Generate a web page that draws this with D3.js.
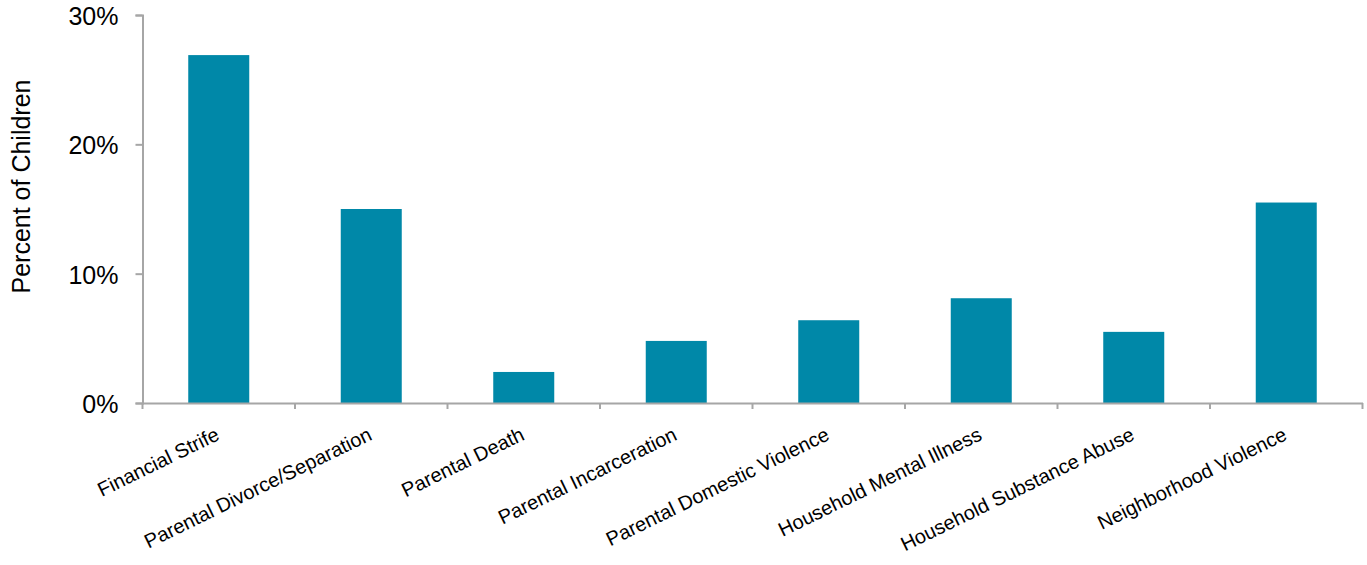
<!DOCTYPE html>
<html>
<head>
<meta charset="utf-8">
<script src="https://cdn.jsdelivr.net/npm/d3@7"></script>
<style>
  html, body { margin: 0; padding: 0; background: #fff; }
  svg { display: block; }
  text { font-family: "Liberation Sans", Arial, sans-serif; fill: #000; }
</style>
</head>
<body>
<svg id="chart" width="1367" height="565"></svg>
<script>
const categories = [
  "Financial Strife",
  "Parental Divorce/Separation",
  "Parental Death",
  "Parental Incarceration",
  "Parental Domestic Violence",
  "Household Mental Illness",
  "Household Substance Abuse",
  "Neighborhood Violence"
];
const values = [26.9, 15.0, 2.4, 4.8, 6.4, 8.1, 5.5, 15.5];
const yTicks = [0, 10, 20, 30];
const yTitle = "Percent of Children";

(function () {
const svg = d3.select("#chart");
const plotLeft = 142.5, plotRight = 1362.5, plotTop = 15, plotBottom = 403;

const x = d3.scaleBand()
  .domain(categories)
  .range([plotLeft, plotRight])
  .paddingInner(0.6)
  .paddingOuter(0.3);

const y = d3.scaleLinear().domain([0, 30]).range([plotBottom, plotTop]);

const axisColor = "#A6A6A6";

// Bars
svg.append("g")
  .selectAll("rect")
  .data(categories.map((c, i) => ({ c, v: values[i] })))
  .join("rect")
  .attr("x", d => x(d.c))
  .attr("y", d => y(d.v))
  .attr("width", x.bandwidth())
  .attr("height", d => y(0) - y(d.v))
  .attr("fill", "#0088A8");

// Y axis
const yAxis = svg.append("g")
  .attr("transform", `translate(${plotLeft},0)`)
  .call(d3.axisLeft(y).tickValues(yTicks).tickSize(7).tickPadding(17).tickFormat(d => d + "%"));
yAxis.select(".domain").attr("stroke", axisColor).attr("stroke-width", 2);
yAxis.selectAll(".tick line").attr("stroke", axisColor).attr("stroke-width", 2);
yAxis.selectAll(".tick text")
  .attr("font-size", 25)
  .attr("font-family", "Liberation Sans, Arial, sans-serif")
  .attr("fill", "#000")
  .attr("dy", "0.38em");

// X axis
const xAxis = svg.append("g")
  .attr("transform", `translate(0,${plotBottom})`)
  .call(d3.axisBottom(x).tickSize(0).tickSizeOuter(0).tickFormat(""));
xAxis.select(".domain").attr("stroke", axisColor).attr("stroke-width", 2);
xAxis.selectAll(".tick").remove();

// Boundary ticks on x axis
const boundaries = d3.range(categories.length + 1).map(i => x.range()[0] + i * x.step());
svg.append("g")
  .selectAll("line")
  .data(boundaries)
  .join("line")
  .attr("x1", d => d).attr("x2", d => d)
  .attr("y1", plotBottom).attr("y2", plotBottom + 6)
  .attr("stroke", axisColor).attr("stroke-width", 2);

// Category labels (rotated)
svg.append("g")
  .selectAll("text")
  .data(categories)
  .join("text")
  .attr("transform", d => `translate(${x(d) + x.bandwidth() / 2 + 2},${plotBottom + 36}) rotate(-26)`)
  .attr("text-anchor", "end")
  .attr("font-size", 20)
  .text(d => d);

// Y title
svg.append("text")
  .attr("transform", `translate(30,${(78 + 295) / 2}) rotate(-90)`)
  .attr("text-anchor", "middle")
  .attr("font-size", 25)
  .text(yTitle);
})();
</script>
</body>
</html>
